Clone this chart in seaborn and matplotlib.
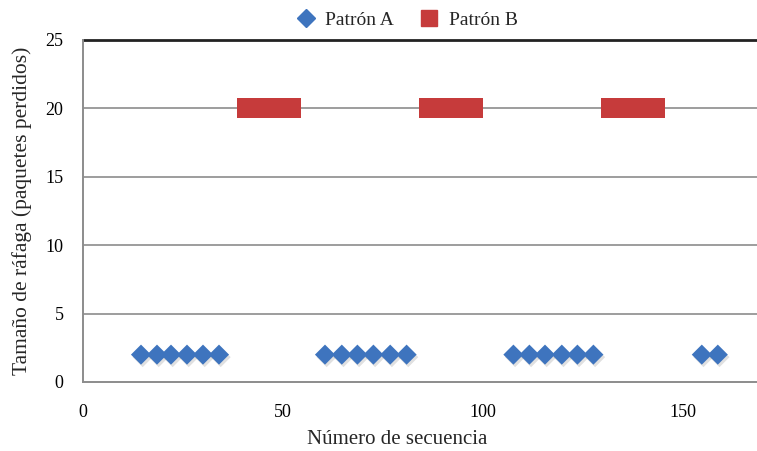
import matplotlib
matplotlib.use("Agg")
import matplotlib.pyplot as plt
import matplotlib.patheffects as pe
import seaborn as sns
import pandas as pd
from matplotlib.lines import Line2D

# ---- data ----
patron_a_x = [14.5, 18.5, 22, 26, 30, 34,
              60.5, 64.7, 68.6, 72.6, 76.8, 80.9,
              107.6, 111.6, 115.5, 119.7, 123.6, 127.6,
              154.7, 158.7]
patron_a_y = [2] * len(patron_a_x)

patron_b_x = ([41, 42, 43, 44, 45, 46, 47, 48, 49, 50, 51, 52] +
              [86.5, 87.5, 88.5, 89.5, 90.5, 91.5, 92.5, 93.5, 94.5, 95.5, 96.5, 97.5] +
              [132, 133, 134, 135, 136, 137, 138, 139, 140, 141, 142, 143])
patron_b_y = [20] * len(patron_b_x)

series_names = ["Patrón A", "Patrón B"]
x_ticks = [0, 50, 100, 150]
y_ticks = [0, 5, 10, 15, 20, 25]
x_label = "Número de secuencia"
y_label = "Tamaño de ráfaga (paquetes perdidos)"

df_a = pd.DataFrame({"x": patron_a_x, "y": patron_a_y})
df_b = pd.DataFrame({"x": patron_b_x, "y": patron_b_y})

sns.set_style("white")
plt.rcParams['font.family'] = ['Liberation Serif', 'DejaVu Serif']

blue = "#3E74BE"
red = "#C63B3B"

fig = plt.figure(figsize=(7.57, 4.51), dpi=100)
ax = fig.add_axes([83 / 757, 1 - 382 / 451, 1 - 83 / 757, (382 - 40) / 451])

grid_color = "#8c8c8c"
for yv in y_ticks[1:-1]:
    ax.axhline(yv, color=grid_color, lw=1.2, zorder=0)
ax.axhline(25, color="#222222", lw=2.0, zorder=0, clip_on=False)

sns.scatterplot(data=df_b, x="x", y="y", marker="s", s=210, color=red,
                edgecolor="none", linewidth=0, ax=ax, zorder=3)
sns.scatterplot(data=df_a, x="x", y="y", marker="D", s=105, color=blue,
                edgecolor="none", linewidth=0, ax=ax, zorder=4)
ax.collections[1].set_path_effects(
    [pe.SimplePatchShadow(offset=(1.2, -1.8), alpha=0.12, shadow_rgbFace="black"), pe.Normal()])

ax.set_xlim(0, 168.5)
ax.set_ylim(0, 25)
ax.set_xticks(x_ticks)
ax.set_yticks(y_ticks)
ax.tick_params(axis="both", labelsize=13, colors="black", length=6, width=1.2,
               direction="out", color=grid_color)
ax.tick_params(axis="x", pad=10)
ax.tick_params(axis="y", pad=8)
for s in ["top", "right"]:
    ax.spines[s].set_visible(False)
for s in ["left", "bottom"]:
    ax.spines[s].set_color(grid_color)
    ax.spines[s].set_linewidth(1.4)

ax.set_xlabel(x_label, fontsize=15, labelpad=7)
ax.xaxis.set_label_coords((397 - 83) / 674, -0.14)
ax.set_ylabel(y_label, fontsize=15.5, labelpad=10)

handles = [Line2D([], [], marker="D", color=blue, linestyle="none", markersize=9),
           Line2D([], [], marker="s", color=red, linestyle="none", markersize=12)]
fig.legend(handles, series_names, loc="upper center", bbox_to_anchor=(402 / 757, 1.0),
           ncol=2, frameon=False, fontsize=14, handletextpad=0.0, columnspacing=0.8,
           borderaxespad=0.2)

fig.savefig("out.png", dpi=100)
